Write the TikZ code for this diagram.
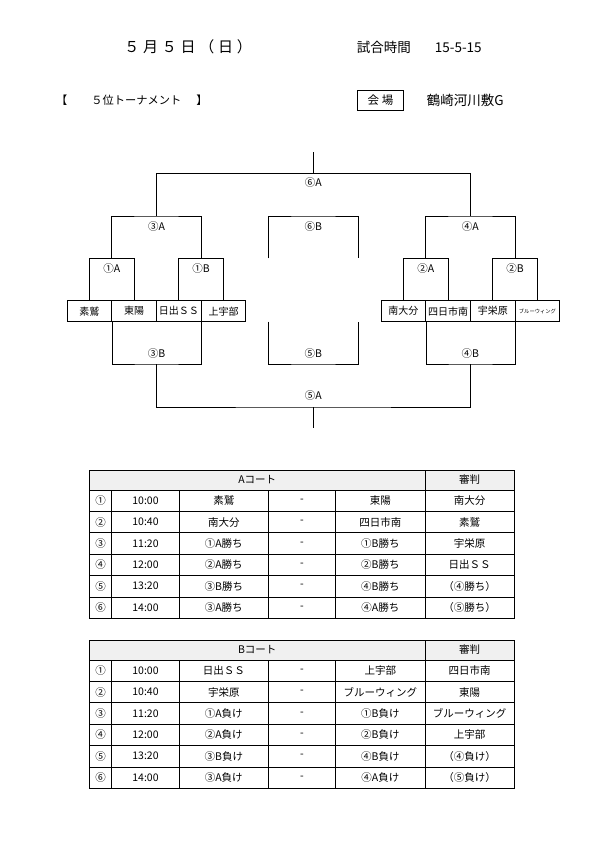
\documentclass[tikz,border=0pt]{standalone}
\usepackage{fontspec}
\setmainfont{Noto Sans CJK JP}
\newcommand{\fsz}[1]{\fontsize{#1}{#1}\selectfont}
\begin{document}
\begin{tikzpicture}[x=1pt,y=-1pt]
\tikzset{
  br/.style={line width=1pt},
  team/.style={draw, line width=1pt, minimum width=44.7pt, minimum height=21pt, inner sep=0pt, font=\fsz{10}},
  lbl/.style={font=\fsz{10.5}, inner sep=0pt},
  cell/.style={font=\fsz{10.5}, inner sep=0pt},
  tline/.style={line width=0.6pt},
  tout/.style={line width=1pt},
}
\fill[white] (0,0) rectangle (595,841);
\useasboundingbox (0,0) rectangle (595,841);

% ---------- header ----------
\node[font=\fsz{15}\addfontfeatures{LetterSpace=25}, inner sep=0pt] (date) at (188,47) {５月５日（日）};
\node[anchor=west, font=\fsz{13.5}, inner sep=0pt] (time) at (356.7,47) {試合時間\hspace{24pt}15-5-15};
\node[anchor=west, font=\fsz{11.25}, inner sep=0pt] (title) at (56,100.7) {【\hspace{24pt}５位トーナメント\hspace{15pt}】};
\node[draw, line width=0.8pt, minimum width=45.6pt, minimum height=19.3pt, inner sep=0pt, font=\fsz{11.5}] (kaijo) at (380.5,100.35) {会 場};
\node[anchor=west, font=\fsz{13.5}, inner sep=0pt] (venue) at (426.7,100.7) {鶴崎河川敷G};

% ---------- teams ----------
\node[team] (t1) at (89.4,311.2) {素鷲};
\node[team] (t2) at (134.1,311.2) {東陽};
\node[team] (t3) at (178.8,311.2) {日出ＳＳ};
\node[team] (t4) at (223.5,311.2) {上宇部};
\node[team] (t5) at (403.35,311.2) {南大分};
\node[team] (t6) at (448.05,311.2) {四日市南};
\node[team] (t7) at (492.75,311.2) {宇栄原};
\node[team, font=\fsz{5.3}] (t8) at (537.45,311.2) {ブルーウィング};

% ---------- upper bracket ----------
\coordinate (m1A) at (111.75,258.3);
\coordinate (m1B) at (201.15,258.3);
\coordinate (m2A) at (425.7,258.3);
\coordinate (m2B) at (515.1,258.3);
\coordinate (m3A) at (156.45,216);
\coordinate (m4A) at (470.4,216);
\coordinate (m6A) at (313.4,173.3);
\coordinate (top) at (313.4,152);
\coordinate (m6B) at (313.4,216);
\coordinate (c6Bl) at (268.4,258.3);
\coordinate (c6Br) at (358.4,258.3);

\draw[br] (t1.north) |- (m1A) -| (t2.north);
\draw[br] (t3.north) |- (m1B) -| (t4.north);
\draw[br] (t5.north) |- (m2A) -| (t6.north);
\draw[br] (t7.north) |- (m2B) -| (t8.north);
\draw[br] (m1A) |- (m3A) -| (m1B);
\draw[br] (m2A) |- (m4A) -| (m2B);
\draw[br] (m3A) |- (m6A) -| (m4A);
\draw[br] (m6A) -- (top);
\draw[br] (c6Bl) |- (m6B) -| (c6Br);

% ---------- lower bracket ----------
\coordinate (m3B) at (156.45,364);
\coordinate (m4B) at (470.4,364);
\coordinate (m5B) at (313.4,364);
\coordinate (m5A) at (313.4,407);
\coordinate (bot) at (313.4,428);
\coordinate (c5Bl) at (268.4,321.7);
\coordinate (c5Br) at (358.4,321.7);

\draw[br] (t1.south east) |- (m3B) -| (t3.south east);
\draw[br] (t5.south east) |- (m4B) -| (t7.south east);
\draw[br] (c5Bl) |- (m5B) -| (c5Br);
\draw[br] (m3B) |- (m5A) -| (m4B);
\draw[br] (m5A) -- (bot);

% ---------- bracket labels ----------
\node[lbl] (l6A) at (313.4,183) {⑥A};
\node[lbl] (l3A) at (156.45,227) {③A};
\node[lbl] (l6B) at (313.4,227) {⑥B};
\node[lbl] (l4A) at (470.4,227) {④A};
\node[lbl] (l1A) at (111.75,269) {①A};
\node[lbl] (l1B) at (201.15,269) {①B};
\node[lbl] (l2A) at (425.7,269) {②A};
\node[lbl] (l2B) at (515.1,269) {②B};
\node[lbl] (l3B) at (156.45,354) {③B};
\node[lbl] (l5B) at (313.4,354) {⑤B};
\node[lbl] (l4B) at (470.4,354) {④B};
\node[lbl] (l5A) at (313.4,396) {⑤A};

% ---------- table A ----------
\fill[gray!12] (89.3,470) rectangle (514.3,490);
\foreach \k in {0,...,5} \draw[tline] (89.3,490+21.38*\k) -- (514.3,490+21.38*\k);
\draw[tline] (425,470) -- (425,618.3);
\foreach \xx in {111.7,179.3,268.3,335.7} \draw[tline] (\xx,490) -- (\xx,618.3);
\draw[tout] (89.3,470) rectangle (514.3,618.3);
\node[cell] (aH) at (257.2,480) {Aコート};
\node[cell] (aJ) at (469.7,480) {審判};
\foreach \na/\tm/\pa/\pb/\rf [count=\i] in {
  ①/10:00/素鷲/東陽/南大分,
  ②/10:40/南大分/四日市南/素鷲,
  ③/11:20/①A勝ち/①B勝ち/宇栄原,
  ④/12:00/②A勝ち/②B勝ち/日出ＳＳ,
  ⑤/13:20/③B勝ち/④B勝ち/{（④勝ち）},
  ⑥/14:00/③A勝ち/④A勝ち/{（⑤勝ち）}} {
  \pgfmathsetmacro\yy{490+21.38*(\i-0.5)}
  \node[cell] (a\i-n) at (100.5,\yy) {\na};
  \node[cell] (a\i-t) at (145.5,\yy) {\tm};
  \node[cell] (a\i-p) at (223.8,\yy) {\pa};
  \node[cell] (a\i-d) at (302,\yy) {-};
  \node[cell] (a\i-q) at (380.4,\yy) {\pb};
  \node[cell] (a\i-r) at (469.7,\yy) {\rf};
}

% ---------- table B ----------
\fill[gray!12] (89.3,640) rectangle (514.3,660);
\foreach \k in {0,...,5} \draw[tline] (89.3,660+21.38*\k) -- (514.3,660+21.38*\k);
\draw[tline] (425,640) -- (425,788.3);
\foreach \xx in {111.7,179.3,268.3,335.7} \draw[tline] (\xx,660) -- (\xx,788.3);
\draw[tout] (89.3,640) rectangle (514.3,788.3);
\node[cell] (bH) at (257.2,650) {Bコート};
\node[cell] (bJ) at (469.7,650) {審判};
\foreach \na/\tm/\pa/\pb/\rf [count=\i] in {
  ①/10:00/日出ＳＳ/上宇部/四日市南,
  ②/10:40/宇栄原/ブルーウィング/東陽,
  ③/11:20/①A負け/①B負け/ブルーウィング,
  ④/12:00/②A負け/②B負け/上宇部,
  ⑤/13:20/③B負け/④B負け/{（④負け）},
  ⑥/14:00/③A負け/④A負け/{（⑤負け）}} {
  \pgfmathsetmacro\yy{660+21.38*(\i-0.5)}
  \node[cell] (b\i-n) at (100.5,\yy) {\na};
  \node[cell] (b\i-t) at (145.5,\yy) {\tm};
  \node[cell] (b\i-p) at (223.8,\yy) {\pa};
  \node[cell] (b\i-d) at (302,\yy) {-};
  \node[cell] (b\i-q) at (380.4,\yy) {\pb};
  \node[cell] (b\i-r) at (469.7,\yy) {\rf};
}
\end{tikzpicture}
\end{document}
